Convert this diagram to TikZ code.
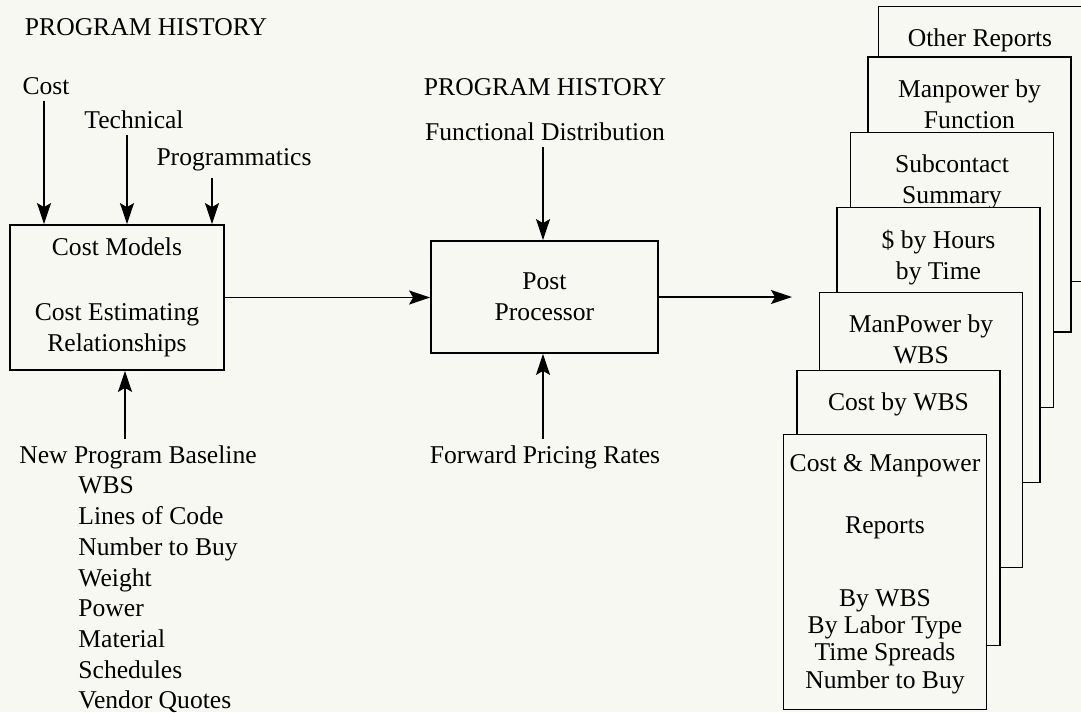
\documentclass[tikz,border=0pt]{standalone}
\usepackage{fontspec}
\setmainfont{Liberation Serif}
\usetikzlibrary{arrows.meta}
\definecolor{paper}{HTML}{F8F8F3}

\begin{document}
\begin{tikzpicture} [
    x=0.5pt, y=-0.5pt,
    font=\fontsize{12.8}{15.5}\selectfont,
    block/.style  = { rectangle, draw=black, line width=0.9pt, fill=paper,
                      align=center, inner sep=0pt },
    report/.style = { rectangle, draw=black, line width=0.9pt, fill=paper,
                      minimum width=101.5pt, minimum height=137.5pt, inner sep=0pt },
    rtext/.style  = { anchor=north, yshift=-11.5pt, align=center, inner sep=0pt },
    input/.style  = { inner sep=0pt, align=center },
    line/.style   = { draw, line width=0.8pt,
                      -{Stealth[length=10.5pt, width=7pt, inset=2pt]} },
    fromtext/.style = { shorten <=3pt },
  ]

\fill [paper] (0,0) rectangle (1081,712);
\useasboundingbox (0,0) rectangle (1081,712);

% cost model side
\node [input] (hist1) at (146,27)  {PROGRAM HISTORY};
\node [input] (cost)  at (46,86)   {Cost};
\node [input] (tech)  at (134,120) {Technical};
\node [input] (prog)  at (234,160) {Programmatics};
\node [block, minimum width=107pt, minimum height=72.5pt] (models) at (117,297.5)
      {Cost Models\\[17pt] Cost Estimating\\ Relationships};
\node [input] (base)  at (138,457) {New Program Baseline};
\node [input, align=left, anchor=west, font=\fontsize{12.8}{15.35}\selectfont] (items) at (78,595)
      {WBS\\ Lines of Code\\ Number to Buy\\ Weight\\ Power\\ Material\\ Schedules\\ Vendor Quotes};

% post processor
\node [input] (hist2) at (545,87)  {PROGRAM HISTORY};
\node [input] (func)  at (545,132) {Functional Distribution};
\node [block, minimum width=113.5pt, minimum height=56pt] (post) at (544.5,297)
      {Post\\ Processor};
\node [input] (fwd)   at (545,457) {Forward Pricing Rates};
\coordinate (out) at (792,297);

% report stack, back to front
\node [report, label={[rtext]north:Other Reports}]            (other)   at (980,144)   {};
\node [report, label={[rtext]north:{Manpower by\\ Function}}] (mpfunc)  at (969.5,194.5) {};
\node [report, label={[rtext]north:{Subcontact\\ Summary}}]   (subcon)  at (952,270)   {};
\node [report, label={[rtext]north:{\$ by Hours\\ by Time}}]  (dollar)  at (938.5,345) {};
\node [report, label={[rtext]north:{ManPower by\\ WBS}}]      (mpwbs)   at (921,430)   {};
\node [report, label={[rtext]north:Cost by WBS}]              (costwbs) at (898.5,508) {};
\node [report] (costmp) at (885,572) {};
\node [input, anchor=north, font=\fontsize{12.8}{13.7}\selectfont] (costmptxt)
      at ([yshift=-10pt]costmp.north)
      {Cost \& Manpower\\[17.3pt] Reports\\[22.8pt] By WBS\\ By Labor Type\\ Time Spreads\\ Number to Buy};

\begin{scope} [every path/.style=line]
    \path [fromtext] ([xshift=-1pt]cost.south)   -- ([xshift=-1pt]cost.south |- models.north);
    \path [fromtext] ([xshift=-3.5pt]tech.south) -- ([xshift=-3.5pt]tech.south |- models.north);
    \path [fromtext] ([xshift=-11pt]prog.south)  -- ([xshift=-11pt]prog.south |- models.north);
    \path [fromtext] ([xshift=-6.5pt]base.north) -- ([xshift=-6.5pt]base.north |- models.south);
    \path (models.east)                          -- (models.east -| post.west);
    \path [fromtext] ([xshift=-1pt]func.south)   -- ([xshift=-1pt]func.south |- post.north);
    \path [fromtext] ([xshift=-1pt]fwd.north)    -- ([xshift=-1pt]fwd.north |- post.south);
    \path (post.east)                            -- (out);
\end{scope}

\end{tikzpicture}
\end{document}
